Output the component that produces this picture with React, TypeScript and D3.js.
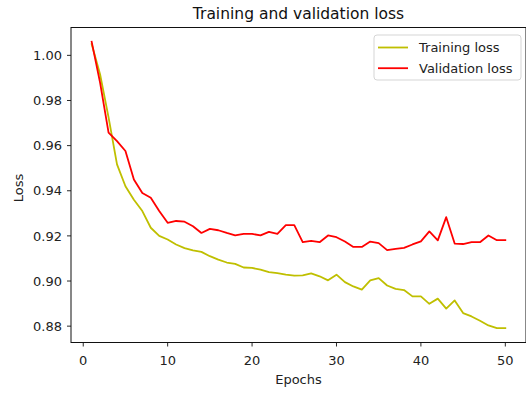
import React from "react";
import * as d3 from "d3";

const epochs: number[] = Array.from({ length: 50 }, (_, i) => i + 1);
const trainingLoss: number[] = [
  1.005, 0.9915, 0.9725, 0.9517, 0.942, 0.936, 0.931, 0.9236, 0.92, 0.9184,
  0.9162, 0.9146, 0.9136, 0.9129, 0.911, 0.9095, 0.9082, 0.9076, 0.906, 0.9058,
  0.905, 0.9039, 0.9035, 0.9028, 0.9024, 0.9025, 0.9034, 0.9021, 0.9003, 0.9028,
  0.8995, 0.8976, 0.8962, 0.9003, 0.9013, 0.898, 0.8965, 0.896, 0.8932, 0.8932,
  0.8899, 0.8922, 0.8878, 0.8914, 0.8858, 0.8843, 0.8824, 0.8803, 0.8791, 0.8791,
];
const validationLoss: number[] = [
  1.006, 0.9878, 0.9658, 0.962, 0.9576, 0.945, 0.939, 0.9369, 0.931, 0.9258,
  0.9266, 0.9263, 0.9243, 0.9213, 0.9231, 0.9225, 0.9213, 0.9202, 0.9209, 0.9209,
  0.9202, 0.9218, 0.9209, 0.9248, 0.9248, 0.9172, 0.9178, 0.9172, 0.9202, 0.9194,
  0.9175, 0.9151, 0.9151, 0.9175, 0.9168, 0.9137, 0.9142, 0.9147, 0.9162, 0.9176,
  0.922, 0.918, 0.9283, 0.9166, 0.9164, 0.9172, 0.9172, 0.9202, 0.9181, 0.9181,
];
const xTicks: number[] = [0, 10, 20, 30, 40, 50];
const yTicks: number[] = [0.88, 0.9, 0.92, 0.94, 0.96, 0.98, 1.0];
const titleText = "Training and validation loss";
const xLabel = "Epochs";
const yLabel = "Loss";
const seriesNames: string[] = ["Training loss", "Validation loss"];
const seriesColors: string[] = ["#bfbf00", "#ff0000"];

const W = 526;
const H = 394;
const left = 71;
const right = 526;
const top = 27.5;
const bottom = 342.5;
const font = "DejaVu Sans, sans-serif";
const fs = 13;

export default function App() {
  const xMin = d3.min(epochs)!;
  const xMax = d3.max(epochs)!;
  const xPad = (xMax - xMin) * 0.05;
  const allY = [...trainingLoss, ...validationLoss];
  const yMin = d3.min(allY)!;
  const yMax = d3.max(allY)!;
  const yPad = (yMax - yMin) * 0.05;

  const x = d3.scaleLinear().domain([xMin - xPad, xMax + xPad]).range([left, right]);
  const y = d3.scaleLinear().domain([yMin - yPad, yMax + yPad]).range([bottom, top]);

  const line = d3
    .line<number>()
    .x((_, i) => x(epochs[i]))
    .y((d) => y(d));

  const series = [trainingLoss, validationLoss];

  return (
    <svg
      width={W}
      height={H}
      style={{ position: "absolute", left: 0, top: 0, background: "#fff" }}
      fontFamily={font}
    >
      <rect x={0} y={0} width={W} height={H} fill="#fff" />
      <text x={(left + right) / 2} y={19} textAnchor="middle" fontSize={15.5} fill="#111">
        {titleText}
      </text>

      {series.map((s, k) => (
        <path
          key={k}
          d={line(s) || ""}
          fill="none"
          stroke={seriesColors[k]}
          strokeWidth={1.8}
          strokeLinejoin="round"
          strokeLinecap="square"
        />
      ))}

      {/* spines */}
      <rect
        x={left}
        y={top}
        width={right - left}
        height={bottom - top}
        fill="none"
        stroke="#111"
        strokeWidth={1}
      />

      {xTicks.map((t) => (
        <g key={"x" + t}>
          <line x1={x(t)} x2={x(t)} y1={bottom} y2={bottom + 4} stroke="#111" strokeWidth={0.9} />
          <text x={x(t)} y={365} textAnchor="middle" fontSize={fs} fill="#222">
            {t}
          </text>
        </g>
      ))}
      {yTicks.map((t) => (
        <g key={"y" + t}>
          <line x1={left - 4} x2={left} y1={y(t)} y2={y(t)} stroke="#111" strokeWidth={0.9} />
          <text
            x={left - 9}
            y={y(t)}
            dy="0.36em"
            textAnchor="end"
            fontSize={fs}
            fill="#222"
          >
            {t.toFixed(2)}
          </text>
        </g>
      ))}

      <text x={(left + right) / 2} y={384} textAnchor="middle" fontSize={fs} fill="#222">
        {xLabel}
      </text>
      <text
        transform={`translate(23, 188) rotate(-90)`}
        textAnchor="middle"
        fontSize={fs}
        fill="#222"
      >
        {yLabel}
      </text>

      {/* legend */}
      <rect
        x={374}
        y={35}
        width={147}
        height={45}
        rx={3}
        fill="#fff"
        fillOpacity={0.8}
        stroke="#d0d0d0"
        strokeWidth={0.9}
      />
      {seriesNames.map((n, k) => (
        <g key={n} transform={`translate(0, ${47.5 + k * 20.7})`}>
          <line x1={378} x2={408} y1={0} y2={0} stroke={seriesColors[k]} strokeWidth={1.8} />
          <text x={419} y={0} dy="0.36em" fontSize={fs} fill="#222">
            {n}
          </text>
        </g>
      ))}
    </svg>
  );
}
